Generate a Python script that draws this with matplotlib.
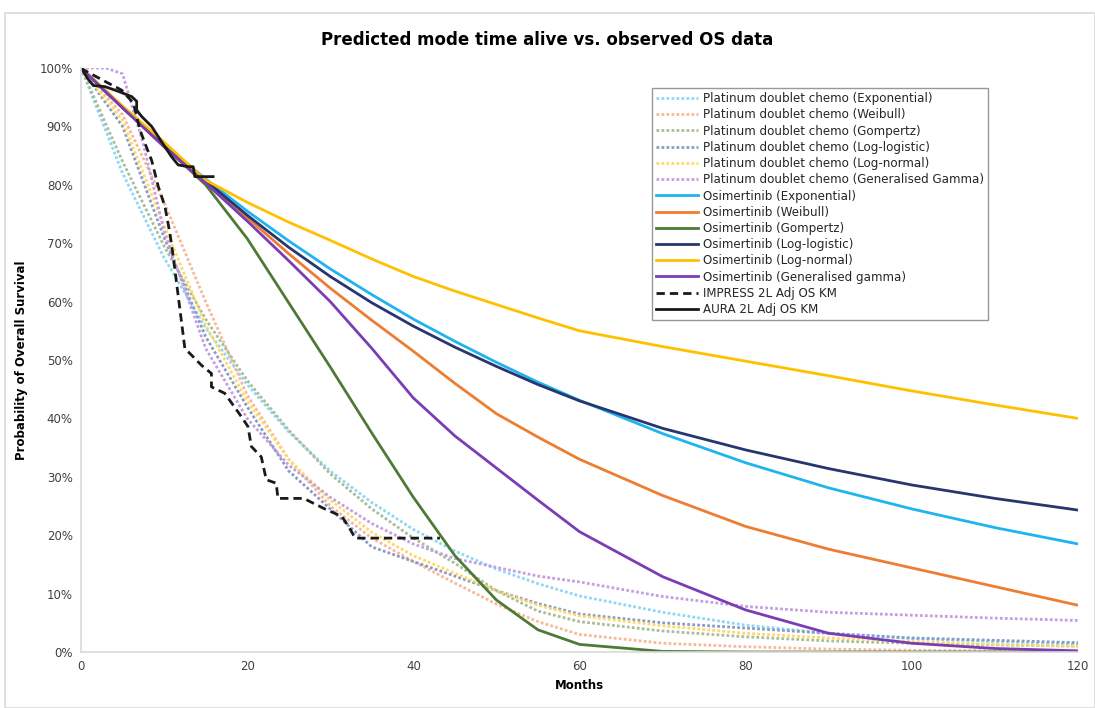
import matplotlib
matplotlib.use("Agg")
import matplotlib.pyplot as plt
from matplotlib.ticker import FuncFormatter, MultipleLocator
from matplotlib.patches import Rectangle

# ---------------- data (survival %) ----------------
months_fit = [0, 5, 10, 15, 20, 25, 30, 35, 40, 45, 50, 55, 60, 70, 80, 90, 100, 110, 120]

plat_exp = [100, 82, 67.5, 55.5, 45.8, 37.7, 31, 25.6, 21, 17.3, 14.2, 11.7, 9.6, 6.8, 4.6, 3.2, 2.3, 1.8, 1.4]
plat_weib = [100, 92, 77, 60, 44, 33, 25, 19.5, 15.5, 11.8, 8.2, 5.2, 3.0, 1.5, 0.9, 0.5, 0.3, 0.2, 0.1]
plat_gomp = [100, 84, 69.5, 57, 46.5, 38, 30.5, 24.5, 19.5, 15.2, 10.5, 7, 5.2, 3.6, 2.6, 1.9, 1.5, 1.2, 1.0]
plat_llog = [100, 90, 71, 54, 42, 31, 24.5, 18, 15.5, 13, 10.5, 8.3, 6.5, 5.0, 4.1, 3.2, 2.4, 2.0, 1.6]
plat_lnorm = [100, 91, 73, 56, 43, 33, 26, 20.5, 16.5, 13.5, 10.5, 8, 6.2, 4.5, 3.2, 2.4, 1.8, 1.3, 1.0]
months_plat_gg = [0, 3, 5, 7.5, 10, 15, 20, 25, 30, 35, 40, 45, 50, 55, 60, 70, 80, 90, 100, 110, 120]
plat_gg = [100, 100, 99, 87, 72, 52, 40, 32, 26.5, 22, 18.5, 16, 14.5, 13, 12, 9.5, 7.8, 6.8, 6.3, 5.8, 5.4]

osi_exp = [100, 93.2, 86.9, 81, 75.5, 70.4, 65.6, 61.2, 57, 53.2, 49.6, 46.2, 43.1, 37.4, 32.4, 28.1, 24.5, 21.3, 18.5]
osi_weib = [100, 93.3, 86.8, 80.6, 74.4, 68.2, 62.3, 56.8, 51.5, 46, 40.8, 36.8, 33, 26.8, 21.5, 17.6, 14.4, 11.2, 8.0]
osi_gomp = [100, 93.2, 86.6, 80.0, 70.8, 59.8, 48.8, 37.5, 26.5, 16.5, 8.9, 3.8, 1.3, 0.1, 0, 0, 0, 0, 0]
osi_llog = [100, 93.2, 86.7, 80.7, 74.8, 69.3, 64.3, 59.8, 55.8, 52.2, 48.9, 45.8, 43.0, 38.3, 34.6, 31.4, 28.6, 26.3, 24.3]
osi_lnorm = [100, 93.5, 87.3, 80.8, 77, 73.6, 70.5, 67.3, 64.3, 61.8, 59.5, 57.2, 55, 52.3, 49.8, 47.3, 44.7, 42.3, 40]
osi_gg = [100, 93.2, 86.5, 80.3, 73.8, 67, 60, 52, 43.5, 37, 31.5, 26, 20.6, 12.9, 7.2, 3.2, 1.5, 0.6, 0.2]

impress_t = [0, 0.3, 2.5, 4.9, 6.3, 7.1, 7.7, 8.5, 9.3, 10.1, 10.7, 11.1, 12.5, 14.5, 15.7, 15.7, 17.3, 19.3,
             20.1, 20.5, 21.7, 22.3, 23.5, 23.7, 26.8, 29.2, 31.4, 32.2, 33.0, 43.2]
impress_s = [100, 99.7, 98, 96.2, 94, 89.4, 87.1, 84.2, 79.7, 76.3, 71.7, 67.7, 52, 49.1, 47.7, 45.4, 44.3, 40.3,
             38.6, 35.2, 33.4, 29.5, 28.9, 26.3, 26.3, 24.6, 23.2, 21.5, 19.5, 19.5]

aura_t = [0, 0.9, 1.5, 2.9, 4.5, 6.1, 6.7, 6.7, 7.3, 8.5, 10.1, 10.9, 11.7, 12.9, 13.5, 13.7, 15.9]
aura_s = [100, 98, 97, 96.8, 96, 95.1, 94.3, 92.8, 91.7, 90, 86.5, 84.8, 83.4, 83.1, 83.1, 81.4, 81.4]

labels = [
    "Platinum doublet chemo (Exponential)",
    "Platinum doublet chemo (Weibull)",
    "Platinum doublet chemo (Gompertz)",
    "Platinum doublet chemo (Log-logistic)",
    "Platinum doublet chemo (Log-normal)",
    "Platinum doublet chemo (Generalised Gamma)",
    "Osimertinib (Exponential)",
    "Osimertinib (Weibull)",
    "Osimertinib (Gompertz)",
    "Osimertinib (Log-logistic)",
    "Osimertinib (Log-normal)",
    "Osimertinib (Generalised gamma)",
    "IMPRESS 2L Adj OS KM",
    "AURA 2L Adj OS KM",
]

plat_colors = ["#8FD8F5", "#F7B999", "#A8BE9A", "#8A9BC4", "#FFD966", "#C3A0E0"]
osi_colors = ["#1FB4F0", "#ED7D31", "#4E7A35", "#27366E", "#FFC000", "#7A3DB5"]

# ---------------- figure ----------------
fig = plt.figure(figsize=(10.95, 7.08), dpi=100)
fig.patches.append(Rectangle((5 / 1095, 0.0), 1 - 5 / 1095, 1 - 13 / 708, transform=fig.transFigure,
                             fill=False, edgecolor="#D9D9D9", linewidth=1.2))
ax = fig.add_axes([81 / 1095, 1 - 652 / 708, (1078 - 81) / 1095, (652 - 68) / 708])

plat_series = [(months_fit, plat_exp), (months_fit, plat_weib), (months_fit, plat_gomp),
               (months_fit, plat_llog), (months_fit, plat_lnorm), (months_plat_gg, plat_gg)]
osi_series = [osi_exp, osi_weib, osi_gomp, osi_llog, osi_lnorm, osi_gg]

handles = []
for (t, s), c, lab in zip(plat_series, plat_colors, labels[:6]):
    h, = ax.plot(t, [v / 100 for v in s], color=c, linestyle=(0, (1, 0.8)), linewidth=2.0, label=lab)
    handles.append(h)
for s, c, lab in zip(osi_series, osi_colors, labels[6:12]):
    h, = ax.plot(months_fit, [v / 100 for v in s], color=c, linestyle="-", linewidth=2.0, label=lab)
    handles.append(h)
h, = ax.plot(impress_t, [v / 100 for v in impress_s], color="#1A1A1A", linestyle=(0, (3, 1.8)),
             linewidth=2.0, label=labels[12])
handles.append(h)
h, = ax.plot(aura_t, [v / 100 for v in aura_s], color="#1A1A1A", linestyle="-", linewidth=2.0, label=labels[13])
handles.append(h)

ax.set_xlim(0, 120)
ax.set_ylim(0, 1.0)
ax.xaxis.set_major_locator(MultipleLocator(20))
ax.yaxis.set_major_locator(MultipleLocator(0.1))
ax.yaxis.set_major_formatter(FuncFormatter(lambda v, p: f"{v * 100:.0f}%"))
for side in ["top", "right"]:
    ax.spines[side].set_visible(False)
for side in ["left", "bottom"]:
    ax.spines[side].set_color("#D9D9D9")
    ax.spines[side].set_linewidth(1.2)
ax.tick_params(axis="both", length=0, labelsize=8.5, labelcolor="#404040", pad=6)

ax.set_xlabel("Months", fontsize=8.5, fontweight="bold", labelpad=4)
ax.set_ylabel("Probability of Overall Survival", fontsize=8.5, fontweight="bold", labelpad=8)
fig.text(0.5, 1 - 40 / 708, "Predicted mode time alive vs. observed OS data", ha="center", va="center",
         fontsize=12, fontweight="bold")

leg = ax.legend(handles=handles, loc="upper left", bbox_to_anchor=((652 - 81) / 997, (652 - 88) / 584),
                fontsize=8.6, frameon=True, fancybox=False, edgecolor="#7F7F7F", handlelength=3.5,
                labelspacing=0.27, borderpad=0.35, handletextpad=0.4, borderaxespad=0)
leg.get_frame().set_linewidth(1.0)
for t in leg.get_texts():
    t.set_color("#262626")

fig.savefig("out.png", dpi=100)
